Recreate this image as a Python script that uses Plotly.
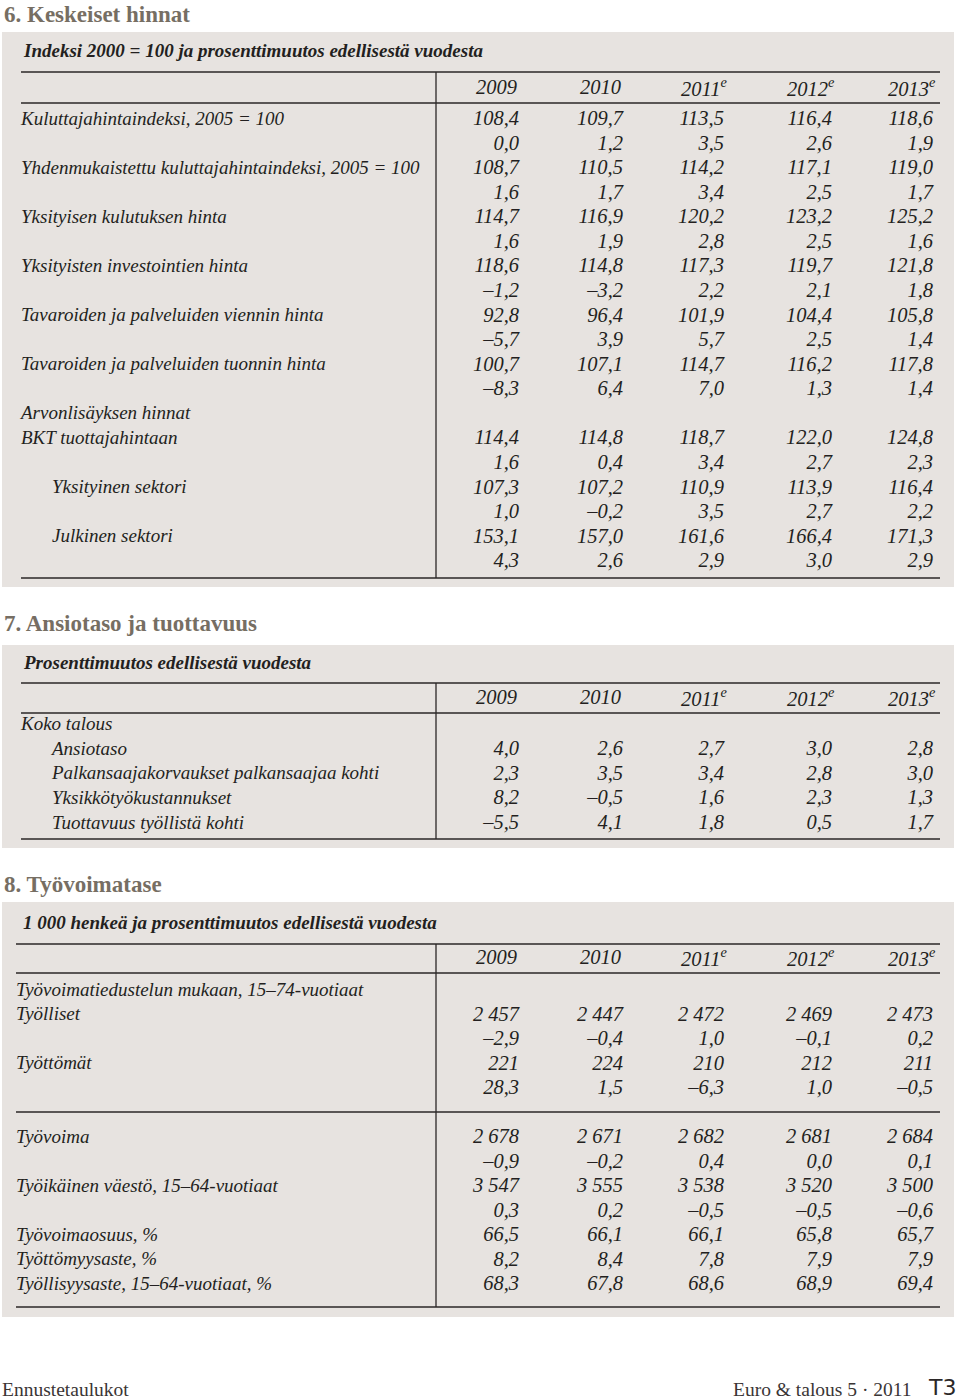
import plotly.graph_objects as go

# ---- data ----
years = ["2009", "2010", "2011", "2012", "2013"]
year_marks = ["", "", "e", "e", "e"]

t6_labels = [
    "Kuluttajahintaindeksi, 2005 = 100",
    "Yhdenmukaistettu kuluttajahintaindeksi, 2005 = 100",
    "Yksityisen kulutuksen hinta",
    "Yksityisten investointien hinta",
    "Tavaroiden ja palveluiden viennin hinta",
    "Tavaroiden ja palveluiden tuonnin hinta",
    "BKT tuottajahintaan",
    "Yksityinen sektori",
    "Julkinen sektori",
]
t6_indent = [0, 0, 0, 0, 0, 0, 0, 1, 1]
t6_index = [
    [108.4, 109.7, 113.5, 116.4, 118.6],
    [108.7, 110.5, 114.2, 117.1, 119.0],
    [114.7, 116.9, 120.2, 123.2, 125.2],
    [118.6, 114.8, 117.3, 119.7, 121.8],
    [92.8, 96.4, 101.9, 104.4, 105.8],
    [100.7, 107.1, 114.7, 116.2, 117.8],
    [114.4, 114.8, 118.7, 122.0, 124.8],
    [107.3, 107.2, 110.9, 113.9, 116.4],
    [153.1, 157.0, 161.6, 166.4, 171.3],
]
t6_change = [
    [0.0, 1.2, 3.5, 2.6, 1.9],
    [1.6, 1.7, 3.4, 2.5, 1.7],
    [1.6, 1.9, 2.8, 2.5, 1.6],
    [-1.2, -3.2, 2.2, 2.1, 1.8],
    [-5.7, 3.9, 5.7, 2.5, 1.4],
    [-8.3, 6.4, 7.0, 1.3, 1.4],
    [1.6, 0.4, 3.4, 2.7, 2.3],
    [1.0, -0.2, 3.5, 2.7, 2.2],
    [4.3, 2.6, 2.9, 3.0, 2.9],
]
t6_group = "Arvonlisäyksen hinnat"

t7_group = "Koko talous"
t7_labels = [
    "Ansiotaso",
    "Palkansaajakorvaukset palkansaajaa kohti",
    "Yksikkötyökustannukset",
    "Tuottavuus työllistä kohti",
]
t7_values = [
    [4.0, 2.6, 2.7, 3.0, 2.8],
    [2.3, 3.5, 3.4, 2.8, 3.0],
    [8.2, -0.5, 1.6, 2.3, 1.3],
    [-5.5, 4.1, 1.8, 0.5, 1.7],
]

t8_group = "Työvoimatiedustelun mukaan, 15–74-vuotiaat"
t8_count_labels = ["Työlliset", "Työttömät", "Työvoima", "Työikäinen väestö, 15–64-vuotiaat"]
t8_counts = [
    [2457, 2447, 2472, 2469, 2473],
    [221, 224, 210, 212, 211],
    [2678, 2671, 2682, 2681, 2684],
    [3547, 3555, 3538, 3520, 3500],
]
t8_count_change = [
    [-2.9, -0.4, 1.0, -0.1, 0.2],
    [28.3, 1.5, -6.3, 1.0, -0.5],
    [-0.9, -0.2, 0.4, 0.0, 0.1],
    [0.3, 0.2, -0.5, -0.5, -0.6],
]
t8_rate_labels = ["Työvoimaosuus, %", "Työttömyysaste, %", "Työllisyysaste, 15–64-vuotiaat, %"]
t8_rates = [
    [66.5, 66.1, 66.1, 65.8, 65.7],
    [8.2, 8.4, 7.8, 7.9, 7.9],
    [68.3, 67.8, 68.6, 68.9, 69.4],
]

# ---- look ----
FONT = "Liberation Serif"
INK = "#231f20"
BOX = "#e7e3e0"
TITLE_COL = "#766e63"
COL_X = [519, 623, 724, 832, 933]
SPLIT_X = 436
LABEL_SIZE = 19
NUM_SIZE = 20.5


def fmt1(v):
    return f"{v:.1f}".replace(".", ",").replace("-", "–")


def fmt_int(v):
    return f"{v:,}".replace(",", " ")


fig = go.Figure()
shapes = []
annotations = []


def hline(y, x0, x1=940):
    shapes.append(dict(type="line", x0=x0, x1=x1, y0=y, y1=y,
                       line=dict(color="#2b2727", width=1.5)))


def vline(y0, y1):
    shapes.append(dict(type="line", x0=SPLIT_X, x1=SPLIT_X, y0=y0, y1=y1,
                       line=dict(color="#2b2727", width=1.3)))


def box(y0, y1):
    shapes.append(dict(type="rect", x0=2, x1=954, y0=y0, y1=y1,
                       fillcolor=BOX, line=dict(width=0), layer="below"))


def note(x, y, text, size=LABEL_SIZE, color=INK, anchor="left", style="italic",
         weight="normal", family=FONT):
    annotations.append(dict(x=x, y=y, text=text, showarrow=False,
                            xanchor=anchor, yanchor="middle",
                            font=dict(family=family, size=size, color=color,
                                      style=style, weight=weight)))


def add_labels(xs, ys, texts):
    fig.add_trace(go.Scatter(x=xs, y=ys, text=texts, mode="text",
                             textposition="middle right",
                             textfont=dict(family=FONT, size=LABEL_SIZE, color=INK, style="italic"),
                             hoverinfo="skip", showlegend=False))


def add_column(col, ys, texts):
    fig.add_trace(go.Scatter(x=[COL_X[col]] * len(ys), y=ys, text=texts, mode="text",
                             textposition="middle left",
                             textfont=dict(family=FONT, size=NUM_SIZE, color=INK, style="italic"),
                             hoverinfo="skip", showlegend=False))


def header_row(y):
    for i, yr in enumerate(years):
        txt = yr + (f"<sup>{year_marks[i]}</sup>" if year_marks[i] else "")
        shift = 5 if year_marks[i] else 0
        note(COL_X[i] + shift, y, txt, size=NUM_SIZE, anchor="right")


def section_title(y, text):
    note(2, y, text, size=23, color=TITLE_COL, style="normal", weight="bold")


# ---- 6. Keskeiset hinnat ----
section_title(14, "6. Keskeiset hinnat")
box(32, 587)
note(21, 50, "Indeksi 2000 = 100 ja prosenttimuutos edellisestä vuodesta", weight="bold")
hline(72, 21)
header_row(87)
hline(103, 21)
vline(72, 578)
hline(578, 21)

y0, step = 120, 24.56
rows6 = [(i, 2 * i) for i in range(6)]
group_row = 12
rows6 += [(6, 13), (7, 15), (8, 17)]
lab_x, lab_y, lab_t = [], [], []
for k, r in rows6:
    lab_x.append(52 if t6_indent[k] else 21)
    lab_y.append(y0 + step * r)
    lab_t.append(t6_labels[k])
lab_x.append(21)
lab_y.append(y0 + step * group_row)
lab_t.append(t6_group)
add_labels(lab_x, lab_y, lab_t)
for c in range(5):
    ys, ts = [], []
    for k, r in rows6:
        ys += [y0 + step * r, y0 + step * (r + 1)]
        ts += [fmt1(t6_index[k][c]), fmt1(t6_change[k][c])]
    add_column(c, ys, ts)

# ---- 7. Ansiotaso ja tuottavuus ----
section_title(623, "7. Ansiotaso ja tuottavuus")
box(645, 848)
note(21, 662, "Prosenttimuutos edellisestä vuodesta", weight="bold")
hline(683, 21)
header_row(697)
hline(713, 21)
vline(683, 839)
hline(839, 21)

y0, step = 725, 24.75
add_labels([21] + [52] * len(t7_labels),
           [y0 + step * i for i in range(len(t7_labels) + 1)],
           [t7_group] + t7_labels)
for c in range(5):
    add_column(c, [y0 + step * (i + 1) for i in range(len(t7_values))],
               [fmt1(v[c]) for v in t7_values])

# ---- 8. Työvoimatase ----
section_title(884, "8. Työvoimatase")
box(902, 1317)
note(21, 922, "1 000 henkeä ja prosenttimuutos edellisestä vuodesta", weight="bold")
hline(944, 16)
header_row(957)
hline(973, 16)
vline(944, 1307)
hline(1112, 16)
hline(1307, 16)

y0, step = 991, 24.5
count_rows = [1, 3, 6, 8]
rate_rows = [10, 11, 12]
add_labels([16] * 8,
           [y0] + [y0 + step * r for r in count_rows] + [y0 + step * r for r in rate_rows],
           [t8_group] + t8_count_labels + t8_rate_labels)
for c in range(5):
    ys, ts = [], []
    for k, r in enumerate(count_rows):
        ys += [y0 + step * r, y0 + step * (r + 1)]
        ts += [fmt_int(t8_counts[k][c]), fmt1(t8_count_change[k][c])]
    for k, r in enumerate(rate_rows):
        ys.append(y0 + step * r)
        ts.append(fmt1(t8_rates[k][c]))
    add_column(c, ys, ts)

# ---- footer ----
note(0, 1389, "Ennustetaulukot", size=19.5, color="#3a3535", style="normal")
note(914, 1389, "Euro &amp; talous 5 · 2011", size=19.5, color="#3a3535", style="normal", anchor="right")
note(958, 1387, "T3", size=22, color="#2b2727", style="normal", anchor="right", family="DejaVu Sans")

fig.update_layout(
    width=960, height=1400,
    margin=dict(l=0, r=0, t=0, b=0),
    paper_bgcolor="white", plot_bgcolor="white",
    xaxis=dict(range=[0, 960], visible=False, fixedrange=True),
    yaxis=dict(range=[1400, 0], visible=False, fixedrange=True),
    shapes=shapes, annotations=annotations,
    showlegend=False,
)

fig.write_html("out.html", config={"displayModeBar": False},
               post_script="document.body.style.margin='0';")
